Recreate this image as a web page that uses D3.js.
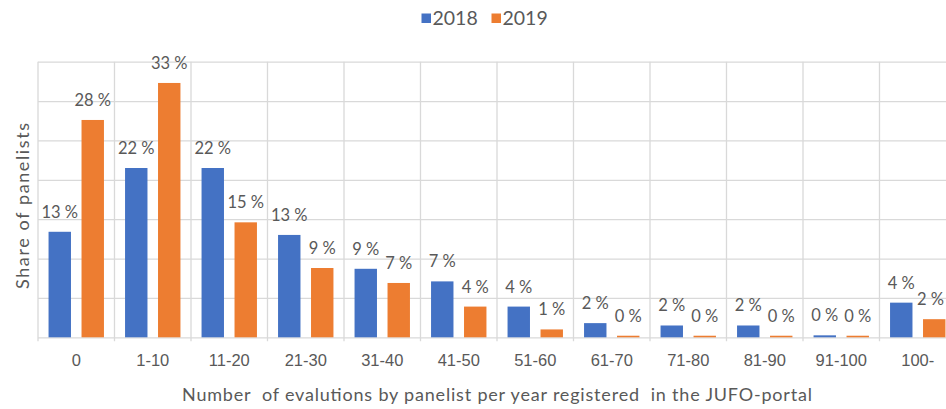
<!DOCTYPE html>
<html>
<head>
<meta charset="utf-8">
<script src="https://cdn.jsdelivr.net/npm/d3@7"></script>
<style>
  body { margin: 0; background: #fff; overflow: hidden; }
  svg { display: block; font-family: Lato, "Open Sans", sans-serif; }
  .grid line { stroke: #d9d9d9; stroke-width: 1.3; }
  .grid .domain { display: none; }
  .x.axis .domain { display: none; }
  .x.axis text { fill: #595959; font-size: 16.5px; }
  .lbl { fill: #595959; font-size: 16.5px; text-anchor: middle; }
  .title { fill: #595959; font-size: 18px; text-anchor: middle; white-space: pre; }
  .legend text { fill: #595959; font-size: 19.5px; }
</style>
</head>
<body>
<div id="chart"></div>
<script>
// values (share of panelists, %)
var categories = ["0", "1-10", "11-20", "21-30", "31-40", "41-50", "51-60", "61-70", "71-80", "81-90", "91-100", "100-"];
var series = ["2018", "2019"];
var values2018 = [13.4, 21.5, 21.5, 13.0, 8.7, 7.1, 3.9, 1.8, 1.5, 1.5, 0.25, 4.4];
var values2019 = [27.6, 32.3, 14.6, 8.8, 6.9, 3.9, 1.0, 0.2, 0.2, 0.2, 0.2, 2.3];
var labels2018 = ["13 %", "22 %", "22 %", "13 %", "9 %", "7 %", "4 %", "2 %", "2 %", "2 %", "0 %", "4 %"];
var labels2019 = ["28 %", "33 %", "15 %", "9 %", "7 %", "4 %", "1 %", "0 %", "0 %", "0 %", "0 %", "2 %"];
var yTicks = [0, 5, 10, 15, 20, 25, 30, 35];
var colors = ["#4472C4", "#ED7D31"];

var margin = { top: 61.7, right: 0, bottom: 71.7, left: 38 },
    width = 918,   // plot runs past the right edge, as in the cropped original
    height = 409 - margin.top - margin.bottom;

var data = categories.map(function (c, i) {
    return { cat: c, vals: [values2018[i], values2019[i]], labels: [labels2018[i], labels2019[i]] };
});

var svg = d3.select("#chart").append("svg")
    .attr("width", 946)
    .attr("height", 409);

var g = svg.append("g")
    .attr("transform", "translate(" + margin.left + "," + margin.top + ")");

var x0 = d3.scaleBand().domain(categories).range([0, width]).padding(0);
var x1 = d3.scaleBand().domain(series).range([0, x0.bandwidth()]).padding(0.32);
var y = d3.scaleLinear().domain([0, 35]).range([height, 0]);

// horizontal gridlines
g.append("g")
    .attr("class", "grid")
    .call(d3.axisLeft(y).tickValues(yTicks).tickSize(-width).tickFormat(""));

// vertical separators between categories
g.append("g")
    .attr("class", "grid")
    .selectAll("line")
    .data(categories.concat(["end"]))
    .enter().append("line")
    .attr("x1", function (d, i) { return i * x0.step(); })
    .attr("x2", function (d, i) { return i * x0.step(); })
    .attr("y1", 0)
    .attr("y2", height + 4);

// category labels
g.append("g")
    .attr("class", "x axis")
    .attr("transform", "translate(0," + height + ")")
    .call(d3.axisBottom(x0).tickSize(0).tickPadding(17));

var groups = g.selectAll(".group")
    .data(data)
    .enter().append("g")
    .attr("class", "group")
    .attr("transform", function (d) { return "translate(" + x0(d.cat) + ",0)"; });

groups.selectAll("rect")
    .data(function (d) { return d.vals.map(function (v, j) { return { s: series[j], v: v, j: j }; }); })
    .enter().append("rect")
    .attr("x", function (d) { return x1(d.s); })
    .attr("width", x1.bandwidth())
    .attr("y", function (d) { return y(d.v); })
    .attr("height", function (d) { return height - y(d.v); })
    .attr("fill", function (d) { return colors[d.j]; });

groups.selectAll(".lbl")
    .data(function (d) { return d.vals.map(function (v, j) { return { s: series[j], v: v, t: d.labels[j], cat: d.cat }; }); })
    .enter().append("text")
    .attr("class", "lbl")
    .attr("x", function (d) { return x1(d.s) + x1.bandwidth() / 2; })
    .attr("y", function (d) { return y(d.v) - 14; })
    .text(function (d) { return d.t; })
    .each(function (d) {
        // keep labels inside the visible area (like Excel nudging the last one)
        var w = this.getComputedTextLength();
        var abs = margin.left + x0(d.cat) + (+this.getAttribute("x"));
        var over = abs + w / 2 - 944;
        if (over > 0) d3.select(this).attr("x", +this.getAttribute("x") - over);
    });

// axis titles
svg.append("text")
    .attr("class", "title")
    .attr("x", 497)
    .attr("y", 401)
    .attr("textLength", 630)
    .text("Number  of evalutions by panelist per year registered  in the JUFO-portal");

svg.append("text")
    .attr("class", "title")
    .attr("transform", "translate(29,206) rotate(-90)")
    .attr("textLength", 166)
    .text("Share of panelists");

// legend
var legend = svg.append("g").attr("class", "legend");
var legendX = [421.5, 491.5];
series.forEach(function (s, i) {
    legend.append("rect")
        .attr("x", legendX[i])
        .attr("y", 13.5)
        .attr("width", 9.5)
        .attr("height", 9.5)
        .attr("fill", colors[i]);
    legend.append("text")
        .attr("x", legendX[i] + 11)
        .attr("y", 25)
        .text(s);
});
</script>
</body>
</html>
